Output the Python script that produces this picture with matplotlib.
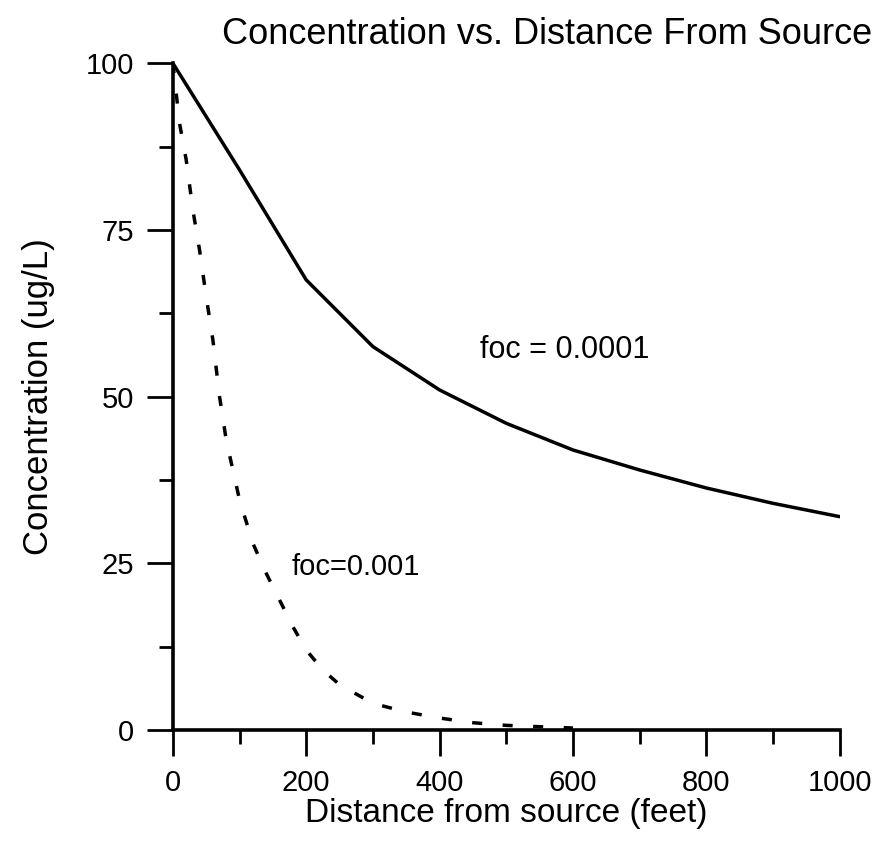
import matplotlib
matplotlib.use("Agg")
import matplotlib.pyplot as plt
from matplotlib.ticker import MultipleLocator

# foc = 0.0001 (solid)
dist_a = [0, 100, 200, 300, 400, 500, 600, 700, 800, 900, 1000]
conc_a = [100, 84, 67.5, 57.5, 51, 46, 42, 39, 36.3, 34, 32]

# foc = 0.001 (dashed)
dist_b = [0, 10, 20, 30, 40, 50, 60, 70, 80, 90, 100, 120, 140, 160, 180, 200,
          225, 250, 300, 350, 400, 450, 500, 600]
conc_b = [100, 91, 85.5, 78, 72, 65, 58.5, 50, 43.5, 39, 34.5, 28, 23.5, 19.5, 15.5, 12,
          9, 6.8, 4, 2.7, 1.8, 1.1, 0.7, 0.3]

x_ticks = [0, 200, 400, 600, 800, 1000]
y_ticks = [0, 25, 50, 75, 100]

plt.rcParams["font.family"] = ["Liberation Sans", "DejaVu Sans"]

fig = plt.figure(figsize=(8.82, 8.43), dpi=100)
ax = fig.add_axes([0.196, 0.134, 0.756, 0.791])

ax.plot(dist_a, conc_a, color="black", lw=2.5, solid_capstyle="round")
ax.plot(dist_b, conc_b, color="black", lw=2.5, dashes=(2.9, 5.9))

ax.set_xlim(0, 1000)
ax.set_ylim(0, 100)
ax.set_xticks(x_ticks)
ax.set_yticks(y_ticks)
ax.xaxis.set_minor_locator(MultipleLocator(100))
ax.yaxis.set_minor_locator(MultipleLocator(12.5))
ax.tick_params(which="major", length=19, width=2, labelsize=21, pad=9)
ax.tick_params(which="minor", length=10, width=2)

for s in ["top", "right"]:
    ax.spines[s].set_visible(False)
for s in ["left", "bottom"]:
    ax.spines[s].set_linewidth(2.6)
ax.patch.set_visible(False)

ax.set_xlabel("Distance from source (feet)", fontsize=24, labelpad=1)
ax.set_ylabel("Concentration (ug/L)", fontsize=25, labelpad=22)

ax.text(460, 57, "foc = 0.0001", fontsize=22, va="center")
ax.text(178, 24.5, "foc=0.001", fontsize=21, va="center")

fig.text(0.989, 1 - 44 / 843, "Concentration vs. Distance From Source",
         fontsize=26, ha="right", va="baseline")

fig.savefig("out.png", dpi=100)
